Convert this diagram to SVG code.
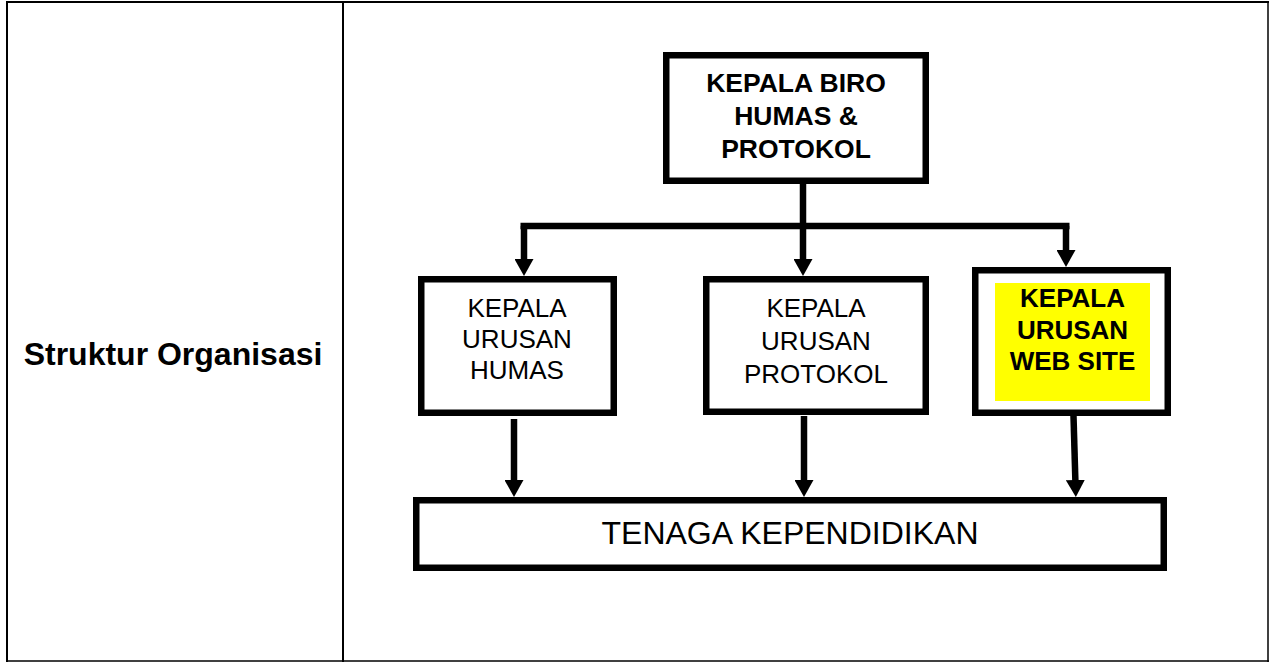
<svg xmlns="http://www.w3.org/2000/svg" width="1269" height="662" viewBox="0 0 1269 662">
<style>
.grid{stroke:#000;stroke-width:2;fill:none}
.box{fill:#fff;stroke:#000;stroke-width:6.5}
.con{stroke:#000;stroke-width:6.5;fill:none}
.t{font-family:"Liberation Sans",Arial,sans-serif;fill:#000;text-anchor:middle}
.b{font-weight:bold}
</style>
<defs>
<marker id="ah" viewBox="0 0 17 19" refX="5" refY="9.5" markerWidth="17" markerHeight="19" markerUnits="userSpaceOnUse" orient="auto">
<path d="M0,0 L17,9.5 L0,19 Z" fill="#000"/>
</marker>
</defs>
<rect x="0" y="0" width="1269" height="662" fill="#fff"/>
<g id="table">
<line class="grid" x1="6" y1="2" x2="1269" y2="2"/>
<line class="grid" x1="7" y1="1" x2="7" y2="662"/>
<line class="grid" x1="343" y1="1" x2="343" y2="662"/>
<line class="grid" x1="1268" y1="1" x2="1268" y2="662" style="stroke-width:1.5"/>
<line class="grid" x1="6" y1="661" x2="1269" y2="661" style="stroke-width:1.5"/>
<text class="t b" x="173" y="365" font-size="32">Struktur Organisasi</text>
</g>
<g id="connectors">
<line class="con" x1="520.5" y1="226" x2="1069.5" y2="226"/>
<line class="con" x1="803" y1="184" x2="803" y2="264" marker-end="url(#ah)"/>
<line class="con" x1="524" y1="226" x2="524" y2="264" marker-end="url(#ah)"/>
<line class="con" x1="1066" y1="226" x2="1066" y2="255" marker-end="url(#ah)"/>
<line class="con" x1="514" y1="419" x2="514" y2="485" marker-end="url(#ah)"/>
<line class="con" x1="804" y1="416" x2="804" y2="485" marker-end="url(#ah)"/>
<line class="con" x1="1073.5" y1="416" x2="1075.5" y2="485" marker-end="url(#ah)"/>
</g>
<g id="kepala-biro">
<rect class="box" x="666.25" y="55.25" width="259.5" height="125.5"/>
<text class="t b" font-size="26.5"><tspan x="796" y="92">KEPALA BIRO</tspan><tspan x="796" y="125">HUMAS &amp;</tspan><tspan x="796" y="158">PROTOKOL</tspan></text>
</g>
<g id="urusan-humas">
<rect class="box" x="421.25" y="279.25" width="192.5" height="133.5"/>
<text class="t" font-size="26"><tspan x="517" y="317">KEPALA</tspan><tspan x="517" y="348">URUSAN</tspan><tspan x="517" y="379">HUMAS</tspan></text>
</g>
<g id="urusan-protokol">
<rect class="box" x="706.25" y="279.25" width="219.5" height="132.5"/>
<text class="t" font-size="26"><tspan x="816" y="317">KEPALA</tspan><tspan x="816" y="350">URUSAN</tspan><tspan x="816" y="383">PROTOKOL</tspan></text>
</g>
<g id="urusan-website">
<rect class="box" x="975.25" y="270.25" width="192.5" height="142.5"/>
<rect x="995" y="283" width="155" height="118" fill="#ffff00"/>
<text class="t b" font-size="26"><tspan x="1072.5" y="307">KEPALA</tspan><tspan x="1072.5" y="338.5">URUSAN</tspan><tspan x="1072.5" y="370">WEB SITE</tspan></text>
</g>
<g id="tenaga-kependidikan">
<rect class="box" x="416.25" y="500.25" width="747.5" height="67.5"/>
<text class="t" x="790" y="544" font-size="32">TENAGA KEPENDIDIKAN</text>
</g>
</svg>
